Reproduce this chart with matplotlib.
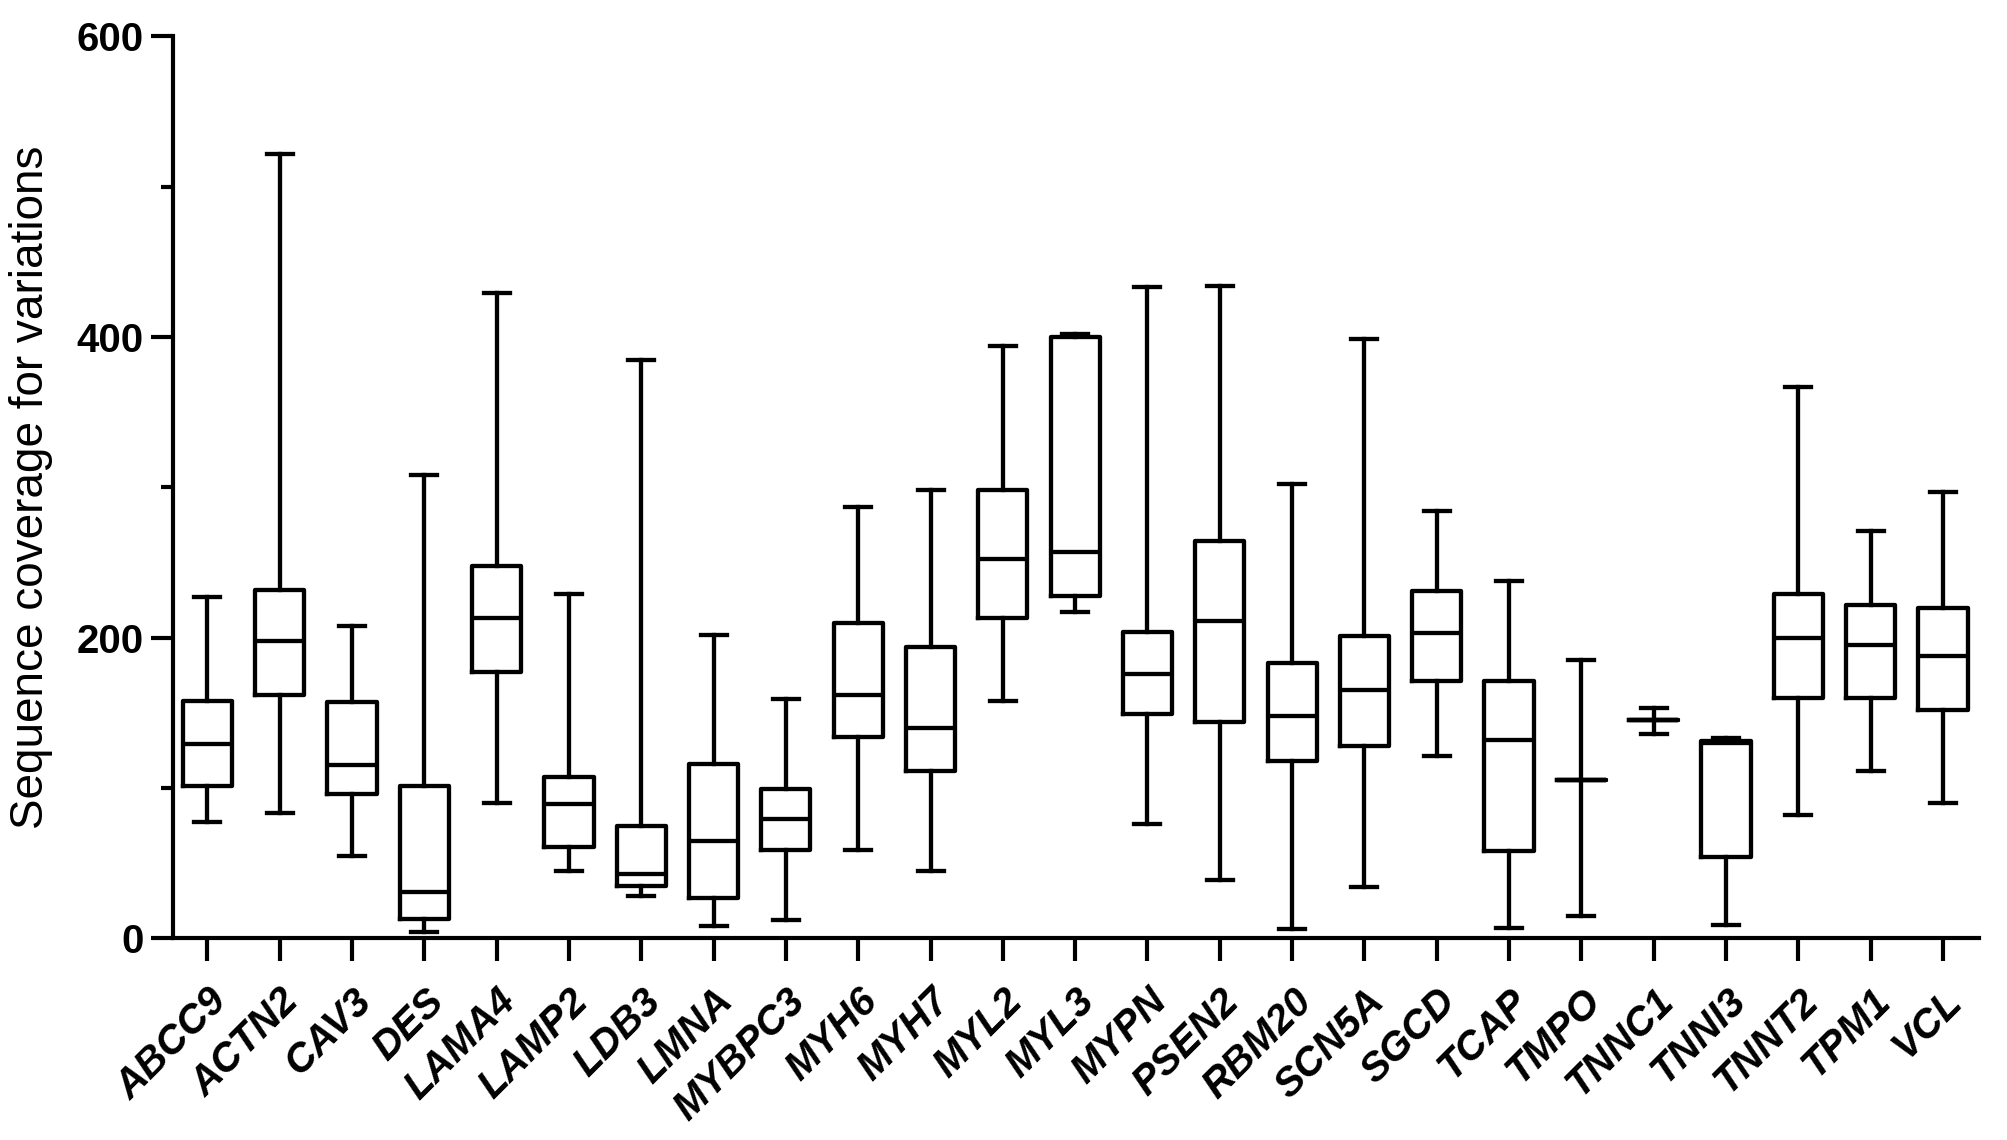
import matplotlib
matplotlib.use("Agg")
import matplotlib.pyplot as plt
from matplotlib.ticker import MultipleLocator

genes = ["ABCC9", "ACTN2", "CAV3", "DES", "LAMA4", "LAMP2", "LDB3", "LMNA", "MYBPC3",
         "MYH6", "MYH7", "MYL2", "MYL3", "MYPN", "PSEN2", "RBM20", "SCN5A", "SGCD",
         "TCAP", "TMPO", "TNNC1", "TNNI3", "TNNT2", "TPM1", "VCL"]
whisker_low = [77, 83, 55, 4, 90, 45, 28, 8, 12, 59, 45, 158, 217, 76, 39, 6, 34, 121,
               7, 15, 136, 9, 82, 111, 90]
q1 = [101, 162, 96, 13, 177, 61, 35, 27, 59, 134, 111, 213, 228, 149, 144, 118, 128, 171,
      58, 105, 145, 54, 160, 160, 152]
median = [129, 198, 115, 31, 213, 89, 43, 65, 79, 162, 140, 252, 257, 176, 211, 148, 165, 203,
          132, 105, 145, 130, 200, 195, 188]
q3 = [158, 232, 157, 101, 248, 107, 75, 116, 99, 210, 194, 298, 400, 204, 264, 183, 201, 231,
      171, 105, 145, 131, 229, 222, 220]
whisker_high = [227, 522, 208, 308, 429, 229, 385, 202, 159, 287, 298, 394, 402, 433, 434, 302,
                399, 284, 238, 185, 153, 133, 367, 271, 297]

stats = []
for g, lo, a, m, b, hi in zip(genes, whisker_low, q1, median, q3, whisker_high):
    stats.append(dict(label=g, whislo=lo, q1=a, med=m, q3=b, whishi=hi, fliers=[]))

fig = plt.figure(figsize=(20.08, 11.4), dpi=100)
ax = fig.add_axes([0.086, 0.177, 0.8996, 0.791])

lw = 3.1
ax.bxp(stats, positions=range(len(genes)), widths=0.68, showfliers=False,
       boxprops=dict(color="black", linewidth=lw),
       medianprops=dict(color="black", linewidth=lw),
       whiskerprops=dict(color="black", linewidth=lw),
       capprops=dict(color="black", linewidth=lw),
       capwidths=0.36)

ax.set_xlim(-0.48, 24.5)
ax.set_ylim(0, 600)
for s in ["top", "right"]:
    ax.spines[s].set_visible(False)
for s in ["left", "bottom"]:
    ax.spines[s].set_linewidth(3.0)

ax.yaxis.set_major_locator(MultipleLocator(200))
ax.yaxis.set_minor_locator(MultipleLocator(100))
ax.tick_params(axis="y", which="major", length=16, width=3.0, pad=5)
ax.tick_params(axis="y", which="minor", length=9, width=3.0)
ax.tick_params(axis="x", which="major", length=16.5, width=3.0, pad=15)

ax.set_yticklabels([f"{int(v)}" for v in ax.get_yticks()], fontsize=29,
                   fontfamily="Liberation Sans", fontweight="bold")
ax.set_xticks(range(len(genes)))
ax.set_xticklabels(genes, rotation=45, ha="right", rotation_mode="anchor",
                   fontsize=29, fontfamily="Liberation Sans", fontweight="bold",
                   fontstyle="italic")
ax.set_ylabel("Sequence coverage for variations", fontsize=33,
              fontfamily="Liberation Sans", labelpad=17)

fig.savefig("out.png", dpi=100)
